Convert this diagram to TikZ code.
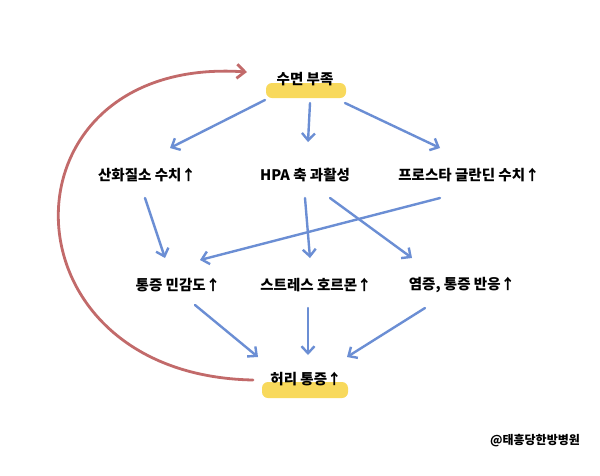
\documentclass[tikz,border=0pt]{standalone}
\usepackage{fontspec}
\newfontfamily\kr{Noto Sans CJK KR}
\usetikzlibrary{arrows.meta,calc}
\definecolor{arrblue}{HTML}{6B8ED4}
\definecolor{arrred}{HTML}{C26A6A}
\definecolor{hilite}{HTML}{F8D95C}
\tikzset{
  lbl/.style={font=\kr\bfseries\fontsize{14.5}{16}\selectfont, inner sep=2pt, text=black},
  arr/.style={draw=arrblue, line width=2.4pt, line cap=round, line join=round,
    -{Straight Barb[length=7pt,width=13pt,line width=2.4pt]}},
  redarr/.style={draw=arrred, line width=2.8pt, line cap=round,
    -{Straight Barb[length=8pt,width=14pt,line width=2.8pt]}},
  hl/.style={fill=hilite, rounded corners=6pt}
}
\begin{document}
\begin{tikzpicture}[x=1pt,y=-1pt]
\useasboundingbox[fill=white] (0,0) rectangle (600,475);
% highlights
\fill[hl] (266,83) rectangle (346,98);
\fill[hl] (262,382) rectangle (348,398);
% nodes
\node[lbl] (sleep) at (305,79) {수면 부족};
\node[lbl] (no) at (147,175) {산화질소 수치↑};
\node[lbl] (hpa) at (305,175) {HPA 축 과활성};
\node[lbl] (pg) at (469,175) {프로스타 글란딘 수치↑};
\node[lbl] (sens) at (178,285) {통증 민감도↑};
\node[lbl] (stress) at (316,285) {스트레스 호르몬↑};
\node[lbl] (infl) at (462,285) {염증, 통증 반응↑};
\node[lbl] (back) at (306,379) {허리 통증↑};
\node[font=\kr\bfseries\fontsize{12}{14}\selectfont, inner sep=1pt] (wm) at (535,441) {@태흥당한방병원};
% blue connectors
\draw[arr] ($(sleep)+(-40,21)$) -- ($(no)+(23,-27)$);
\draw[arr] ($(sleep)+(5,24)$) -- ($(hpa)+(3,-33)$);
\draw[arr] ($(sleep)+(40,24)$) -- ($(pg)+(-29,-27)$);
\draw[arr] ($(no)+(-2,23)$) -- ($(sens)+(-13,-27)$);
\draw[arr] ($(hpa)+(0,23)$) -- ($(stress)+(-6,-27)$);
\draw[arr] ($(hpa)+(25,23)$) -- ($(infl)+(-50,-27)$);
\draw[arr] ($(pg)+(-29,23)$) -- ($(sens)+(22,-25)$);
\draw[arr] ($(sens)+(17,20)$) -- ($(back)+(-48,-22)$);
\draw[arr] ($(stress)+(-8,23)$) -- ($(back)+(2,-24)$);
\draw[arr] ($(infl)+(-37,23)$) -- ($(back)+(41,-22)$);
% red feedback
\draw[redarr] ($(back)+(-53,1)$) .. controls (-5,375) and (-5,55) .. ($(sleep)+(-58,-7)$);
\end{tikzpicture}
\end{document}
